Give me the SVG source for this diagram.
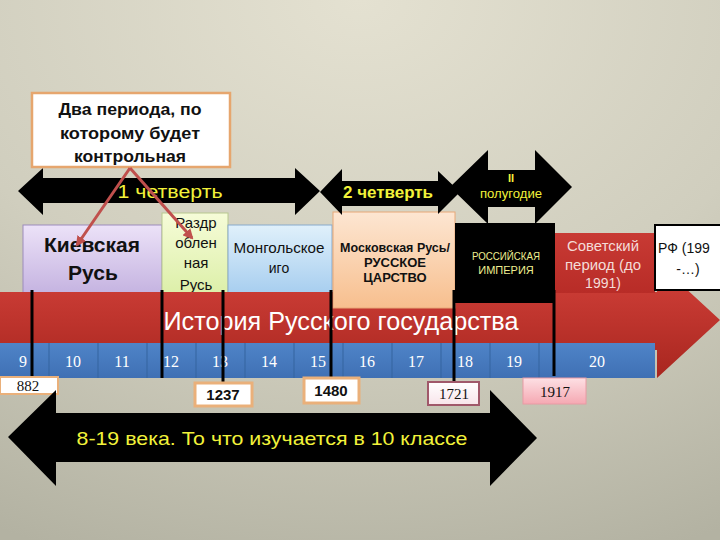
<svg xmlns="http://www.w3.org/2000/svg" width="720" height="540" viewBox="0 0 720 540">
<defs>
<radialGradient id="bg" cx="0.5" cy="0" r="1.1">
<stop offset="0" stop-color="#e4e1d1"/><stop offset="0.55" stop-color="#d0cebe"/><stop offset="1" stop-color="#b3b2a2"/>
</radialGradient>
<linearGradient id="gKiev" x1="0" y1="0" x2="0" y2="1"><stop offset="0" stop-color="#ece2f8"/><stop offset="1" stop-color="#c4b2e0"/></linearGradient>
<linearGradient id="gRaz" x1="0" y1="0" x2="0" y2="1"><stop offset="0" stop-color="#f6fcd8"/><stop offset="1" stop-color="#dcefa8"/></linearGradient>
<linearGradient id="gMon" x1="0" y1="0" x2="0" y2="1"><stop offset="0" stop-color="#e0f0fb"/><stop offset="1" stop-color="#a6cdef"/></linearGradient>
<linearGradient id="gMos" x1="0" y1="0" x2="0" y2="1"><stop offset="0" stop-color="#fde6d2"/><stop offset="1" stop-color="#f7bf8e"/></linearGradient>
<linearGradient id="gRed" x1="0" y1="0" x2="0" y2="1"><stop offset="0" stop-color="#d4423b"/><stop offset="1" stop-color="#a8261f"/></linearGradient>
<linearGradient id="gSov" x1="0" y1="0" x2="0" y2="1"><stop offset="0" stop-color="#c83a34"/><stop offset="1" stop-color="#b82c27"/></linearGradient>
<linearGradient id="gBlue" x1="0" y1="0" x2="0" y2="1"><stop offset="0" stop-color="#4f84c8"/><stop offset="1" stop-color="#3f70b4"/></linearGradient>
<linearGradient id="gPink" x1="0" y1="0" x2="0" y2="1"><stop offset="0" stop-color="#fde0e4"/><stop offset="1" stop-color="#f5a8b2"/></linearGradient>
<linearGradient id="gWP" x1="0" y1="0" x2="0" y2="1"><stop offset="0" stop-color="#ffffff"/><stop offset="1" stop-color="#f8e4ea"/></linearGradient>
<marker id="ah" viewBox="0 0 10 10" refX="8" refY="5" markerWidth="3.5" markerHeight="3.5" orient="auto">
<path d="M0,0 L10,5 L0,10 z" fill="#c0504d"/>
</marker>
<style>
.s{font-family:"Liberation Sans","DejaVu Sans",sans-serif}
.sf{font-family:"Liberation Serif","DejaVu Serif",serif}
.b{font-weight:bold}
.y{fill:#f2f23a}
.w{fill:#ffffff}
.k{fill:#111111}
.cell{fill:#ffffff;font-size:16px;text-anchor:middle}
.div{stroke:#35649f;stroke-width:1}
.vl{stroke:#000;stroke-width:3}
.yr{font-size:15px;text-anchor:middle}
</style>
</defs>
<rect width="720" height="540" fill="url(#bg)"/>

<g id="period-kiev"><rect x="23" y="225" width="139" height="70" fill="url(#gKiev)" stroke="#9c8cbc" stroke-width="1"/>
<text class="s b k" x="92" y="252" font-size="21" text-anchor="middle">Киевская</text>
<text class="s b k" x="93" y="280" font-size="21" text-anchor="middle">Русь</text></g>

<g id="period-razdr"><rect x="162" y="213" width="66" height="82" fill="url(#gRaz)" stroke="#b8c890" stroke-width="1"/>
<text class="s k" x="196" y="228" font-size="15" text-anchor="middle">Раздр</text>
<text class="s k" x="196" y="248" font-size="15" text-anchor="middle">облен</text>
<text class="s k" x="196" y="268" font-size="15" text-anchor="middle">ная</text>
<text class="s k" x="196" y="290" font-size="15" text-anchor="middle">Русь</text></g>

<g id="period-mongol"><rect x="228" y="225" width="104" height="70" fill="url(#gMon)" stroke="#88aacc" stroke-width="1"/>
<text class="s k" x="279" y="253" font-size="14" text-anchor="middle" textLength="91" lengthAdjust="spacingAndGlyphs">Монгольское</text>
<text class="s k" x="279" y="273" font-size="14" text-anchor="middle">иго</text></g>

<g id="timeline">
<path d="M0,292 H657 V262 L720,320 L657,378 V350 H0 Z" fill="url(#gRed)"/>
<text class="s w" x="341" y="330" font-size="25" text-anchor="middle" textLength="355" lengthAdjust="spacingAndGlyphs">История Русского государства</text>
<rect x="0" y="343" width="655" height="35" fill="url(#gBlue)"/>
<g class="div">
<line x1="49" y1="343" x2="49" y2="378"/><line x1="98" y1="343" x2="98" y2="378"/><line x1="147" y1="343" x2="147" y2="378"/>
<line x1="196" y1="343" x2="196" y2="378"/><line x1="245" y1="343" x2="245" y2="378"/><line x1="294" y1="343" x2="294" y2="378"/>
<line x1="343" y1="343" x2="343" y2="378"/><line x1="392" y1="343" x2="392" y2="378"/><line x1="441" y1="343" x2="441" y2="378"/>
<line x1="490" y1="343" x2="490" y2="378"/><line x1="539" y1="343" x2="539" y2="378"/>
</g>
<g class="sf">
<text class="cell" x="23" y="367">9</text><text class="cell" x="73" y="367">10</text><text class="cell" x="122" y="367">11</text>
<text class="cell" x="171" y="367">12</text><text class="cell" x="220" y="367">13</text><text class="cell" x="269" y="367">14</text>
<text class="cell" x="318" y="367">15</text><text class="cell" x="367" y="367">16</text><text class="cell" x="416" y="367">17</text>
<text class="cell" x="465" y="367">18</text><text class="cell" x="514" y="367">19</text><text class="cell" x="597" y="367">20</text>
</g>
</g>

<g id="period-moscow"><rect x="333" y="212" width="122" height="96" fill="url(#gMos)" stroke="#e8a878" stroke-width="1"/>
<text class="s b k" x="395" y="252" font-size="13" text-anchor="middle" textLength="110" lengthAdjust="spacingAndGlyphs">Московская Русь/</text>
<text class="s b k" x="395" y="267" font-size="13" text-anchor="middle">РУССКОЕ</text>
<text class="s b k" x="395" y="282" font-size="13" text-anchor="middle">ЦАРСТВО</text></g>

<g id="period-empire"><rect x="455" y="223" width="100" height="80" fill="#000"/>
<text class="s" x="506" y="260" font-size="11" text-anchor="middle" fill="#eeee90" textLength="68" lengthAdjust="spacingAndGlyphs">РОССИЙСКАЯ</text>
<text class="s" x="506" y="274" font-size="11" text-anchor="middle" fill="#eeee90">ИМПЕРИЯ</text></g>

<g id="period-soviet"><rect x="555" y="233" width="100" height="60" fill="url(#gSov)"/>
<text class="s" x="603" y="251" font-size="14" text-anchor="middle" fill="#f4dcd8" textLength="72" lengthAdjust="spacingAndGlyphs">Советский</text>
<text class="s" x="603" y="270" font-size="14" text-anchor="middle" fill="#f4dcd8" textLength="76" lengthAdjust="spacingAndGlyphs">период (до</text>
<text class="s" x="603" y="288" font-size="14" text-anchor="middle" fill="#f4dcd8">1991)</text></g>

<g id="period-rf"><rect x="655" y="225" width="70" height="65" fill="#fff" stroke="#000" stroke-width="2"/>
<text class="s k" x="658" y="253" font-size="14">РФ (199</text>
<text class="s k" x="688" y="274" font-size="14" text-anchor="middle">-…)</text></g>

<g id="markers">
<line class="vl" x1="32" y1="290" x2="32" y2="376"/>
<line class="vl" x1="162" y1="290" x2="162" y2="378"/>
<line class="vl" x1="223" y1="290" x2="223" y2="382"/>
<line class="vl" x1="331" y1="290" x2="331" y2="378"/>
<line class="vl" x1="454" y1="290" x2="454" y2="382"/>
<line class="vl" x1="554" y1="290" x2="554" y2="376"/>
</g>

<g id="year-882"><rect x="0" y="377" width="58" height="17" fill="#fff" stroke="#eab07a" stroke-width="2"/>
<text class="sf yr k" x="28" y="391" font-size="16">882</text></g>
<g id="year-1237"><rect x="195" y="383" width="57" height="23" fill="#fff" stroke="#eab07a" stroke-width="3"/>
<text class="s b yr k" x="223" y="400">1237</text></g>
<g id="year-1480"><rect x="304" y="378" width="55" height="25" fill="#fff" stroke="#eab07a" stroke-width="3"/>
<text class="s b yr k" x="331" y="396">1480</text></g>
<g id="year-1721"><rect x="428" y="382" width="51" height="23" fill="url(#gWP)" stroke="#a0586a" stroke-width="2"/>
<text class="sf yr k" x="454" y="399" font-size="16">1721</text></g>
<g id="year-1917"><rect x="523" y="378" width="63" height="26" fill="url(#gPink)" stroke="#e89aa4" stroke-width="1"/>
<text class="sf yr k" x="555" y="397" font-size="16">1917</text></g>

<g id="arrow-q1"><path d="M18,191 L43,168 V178 H295 V168 L320,191 L295,215 V203 H43 V215 Z" fill="#000"/>
<text class="s y" x="170" y="198" font-size="18" text-anchor="middle" textLength="105" lengthAdjust="spacingAndGlyphs">1 четверть</text></g>
<g id="arrow-q2"><path d="M320,192 L342,169 V181 H438 V171 L460,192 L438,214 V206 H342 V215 Z" fill="#000"/>
<text class="s b y" x="388" y="198" font-size="16" text-anchor="middle" textLength="90" lengthAdjust="spacingAndGlyphs">2 четверть</text></g>
<g id="arrow-h2"><path d="M450,187 L488,150 V170 H535 V150 L572,187 L535,224 V207 H488 V224 Z" fill="#000"/>
<text class="s b y" x="511" y="182" font-size="11" text-anchor="middle">II</text>
<text class="s y" x="511" y="198" font-size="12" text-anchor="middle" textLength="62" lengthAdjust="spacingAndGlyphs">полугодие</text></g>
<g id="arrow-10class"><path d="M8,437 L56,390 V413 H490 V390 L537,438 L490,486 V462 H56 V486 Z" fill="#000"/>
<text class="s y" x="272" y="445" font-size="19" text-anchor="middle" textLength="391" lengthAdjust="spacingAndGlyphs">8-19 века. То что изучается в 10 классе</text></g>

<g id="callout"><rect x="32" y="93" width="198" height="74" fill="#fff" stroke="#e6a66e" stroke-width="2.5"/>
<text class="s b k" x="130" y="115" font-size="16" text-anchor="middle" textLength="143" lengthAdjust="spacingAndGlyphs">Два периода, по</text>
<text class="s b k" x="130" y="139" font-size="16" text-anchor="middle" textLength="140" lengthAdjust="spacingAndGlyphs">которому будет</text>
<text class="s b k" x="130" y="162" font-size="16" text-anchor="middle" textLength="112" lengthAdjust="spacingAndGlyphs">контрольная</text></g>

<g id="connectors" fill="none" stroke="#c0504d" stroke-width="3">
<line x1="130" y1="168" x2="77" y2="245" marker-end="url(#ah)"/>
<line x1="130" y1="168" x2="192" y2="238" marker-end="url(#ah)"/>
</g>
</svg>
